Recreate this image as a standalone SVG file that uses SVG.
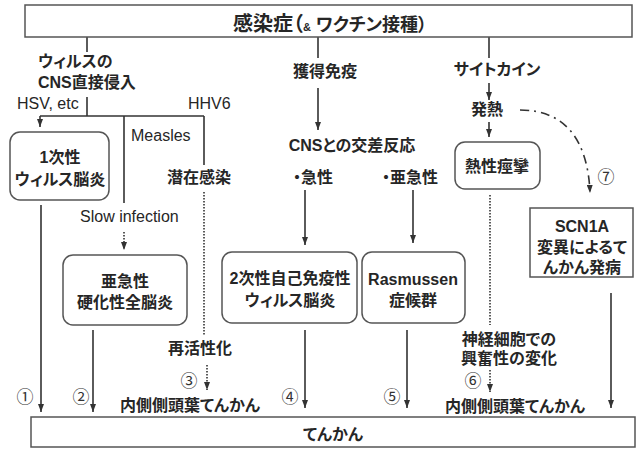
<svg xmlns="http://www.w3.org/2000/svg" width="638" height="449" viewBox="0 0 638 449">
<style>
text{font-family:"Liberation Sans","Noto Sans CJK JP",sans-serif;font-size:16px;fill:#262626;font-weight:bold;font-feature-settings:"palt" 1;}
.m{text-anchor:middle;}
.lat{font-weight:normal;}
.num{font-family:"Noto Sans CJK JP","DejaVu Sans",sans-serif;font-size:17px;font-weight:normal;text-anchor:middle;fill:#333;}
.box{fill:#fff;stroke:#555;stroke-width:1.5;}
.ln{fill:none;stroke:#333;stroke-width:1.6;}
.dot{fill:none;stroke:#333;stroke-width:1.6;stroke-dasharray:1.5 1.5;}
.dd{fill:none;stroke:#333;stroke-width:1.6;stroke-dasharray:9 5 2 5;}
</style>
<defs>
<marker id="ah" viewBox="0 0 8 6" refX="8" refY="3" markerWidth="8" markerHeight="6" markerUnits="userSpaceOnUse" orient="auto">
<path d="M0,0 L8,3 L0,6 z" fill="#333"/>
</marker>
</defs>
<rect width="638" height="449" fill="#fff"/>

<g id="connectors">
<path class="ln" d="M87,37 V52"/>
<path class="ln" d="M87,97 V116"/>
<path class="ln" d="M40,116 H204"/>
<path class="ln" d="M40,116 V127" marker-end="url(#ah)"/>
<path class="ln" d="M124,116 V203"/>
<path class="ln" d="M204,116 V165"/>
<path class="dot" d="M204,192 V335"/>
<path class="dot" d="M207,365 V390" marker-end="url(#ah)"/>
<path class="dot" d="M124,232 V250" marker-end="url(#ah)"/>
<path class="ln" d="M41,205 V412" marker-end="url(#ah)"/>
<path class="ln" d="M93,330 V412" marker-end="url(#ah)"/>
<path class="ln" d="M318,37 V58"/>
<path class="ln" d="M318,88 V130" marker-end="url(#ah)"/>
<path class="ln" d="M305,190 V245" marker-end="url(#ah)"/>
<path class="ln" d="M413,190 V243" marker-end="url(#ah)"/>
<path class="ln" d="M305,330 V408" marker-end="url(#ah)"/>
<path class="ln" d="M407,330 V408" marker-end="url(#ah)"/>
<path class="ln" d="M489,37 V58"/>
<path class="ln" d="M489,83 V100" marker-end="url(#ah)"/>
<path class="ln" d="M489,122 V137" marker-end="url(#ah)"/>
<path class="dot" d="M490,195 V325"/>
<path class="dot" d="M490,370 V392" marker-end="url(#ah)"/>
<path class="dd" d="M520,110 C565,110 588,140 590,193" marker-end="url(#ah)"/>
<path class="ln" d="M611,293 V408" marker-end="url(#ah)"/>
</g>

<g id="infection">
<rect class="box" x="25" y="5" width="607" height="32"/>
<text class="m" x="330" y="31"><tspan font-size="20">感染症（</tspan><tspan font-size="11">&amp;</tspan><tspan font-size="18"> ワクチン接種）</tspan></text>
</g>

<g id="labels-left">
<text x="38" y="67">ウィルスの</text>
<text x="38" y="88">CNS直接侵入</text>
<text class="lat" x="17" y="109">HSV, etc</text>
<text class="lat" x="188" y="109">HHV6</text>
<text class="lat" x="131" y="141" font-size="15">Measles</text>
<text class="m" x="199" y="183">潜在感染</text>
<text class="lat" x="80" y="222">Slow infection</text>
<text class="m" x="200" y="354">再活性化</text>
<text class="m" x="190" y="411">内側側頭葉てんかん</text>
<text class="num" x="25" y="403">①</text>
<text class="num" x="81" y="403">②</text>
<text class="num" x="189" y="387">③</text>
<text class="num" x="290" y="403">④</text>
<text class="num" x="392" y="403">⑤</text>
<text class="num" x="473" y="387">⑥</text>
<text class="num" x="606" y="183">⑦</text>
</g>

<g id="primary">
<rect class="box" x="10" y="132" width="99" height="68" rx="10"/>
<text class="m" x="60" y="163">1次性</text>
<text class="m" x="60" y="185">ウィルス脳炎</text>
</g>

<g id="sspe">
<rect class="box" x="63" y="255" width="124" height="70" rx="10"/>
<text class="m" x="125" y="287">亜急性</text>
<text class="m" x="125" y="308">硬化性全脳炎</text>
</g>

<g id="labels-mid">
<text class="m" x="325" y="77">獲得免疫</text>
<text class="m" x="352" y="151">CNSとの交差反応</text>
<text class="m" x="313" y="183">・急性</text>
<text class="m" x="410" y="183">・亜急性</text>
</g>

<g id="secondary">
<rect class="box" x="222" y="252" width="135" height="71" rx="10"/>
<text class="m" x="290" y="284">2次性自己免疫性</text>
<text class="m" x="290" y="306">ウィルス脳炎</text>
</g>

<g id="rasmussen">
<rect class="box" x="362" y="252" width="103" height="71" rx="10"/>
<text class="m" x="413" y="285">Rasmussen</text>
<text class="m" x="413" y="306">症候群</text>
</g>

<g id="labels-right">
<text class="m" x="497" y="75">サイトカイン</text>
<text class="m" x="487" y="115">発熱</text>
<text class="m" x="509" y="345">神経細胞での</text>
<text class="m" x="509" y="364">興奮性の変化</text>
<text class="m" x="515" y="412">内側側頭葉てんかん</text>
</g>

<g id="febrile">
<rect class="box" x="455" y="142" width="85" height="47" rx="10"/>
<text class="m" x="497" y="172">熱性痙攣</text>
</g>

<g id="scn1a">
<rect class="box" x="530" y="208" width="103" height="69"/>
<text class="m" x="582" y="232">SCN1A</text>
<text class="m" x="582" y="253">変異によるて</text>
<text class="m" x="582" y="273">んかん発病</text>
</g>

<g id="epilepsy">
<rect class="box" x="31" y="417" width="604" height="30"/>
<text class="m" x="333" y="440" font-size="20" font-weight="normal">てんかん</text>
</g>
</svg>
